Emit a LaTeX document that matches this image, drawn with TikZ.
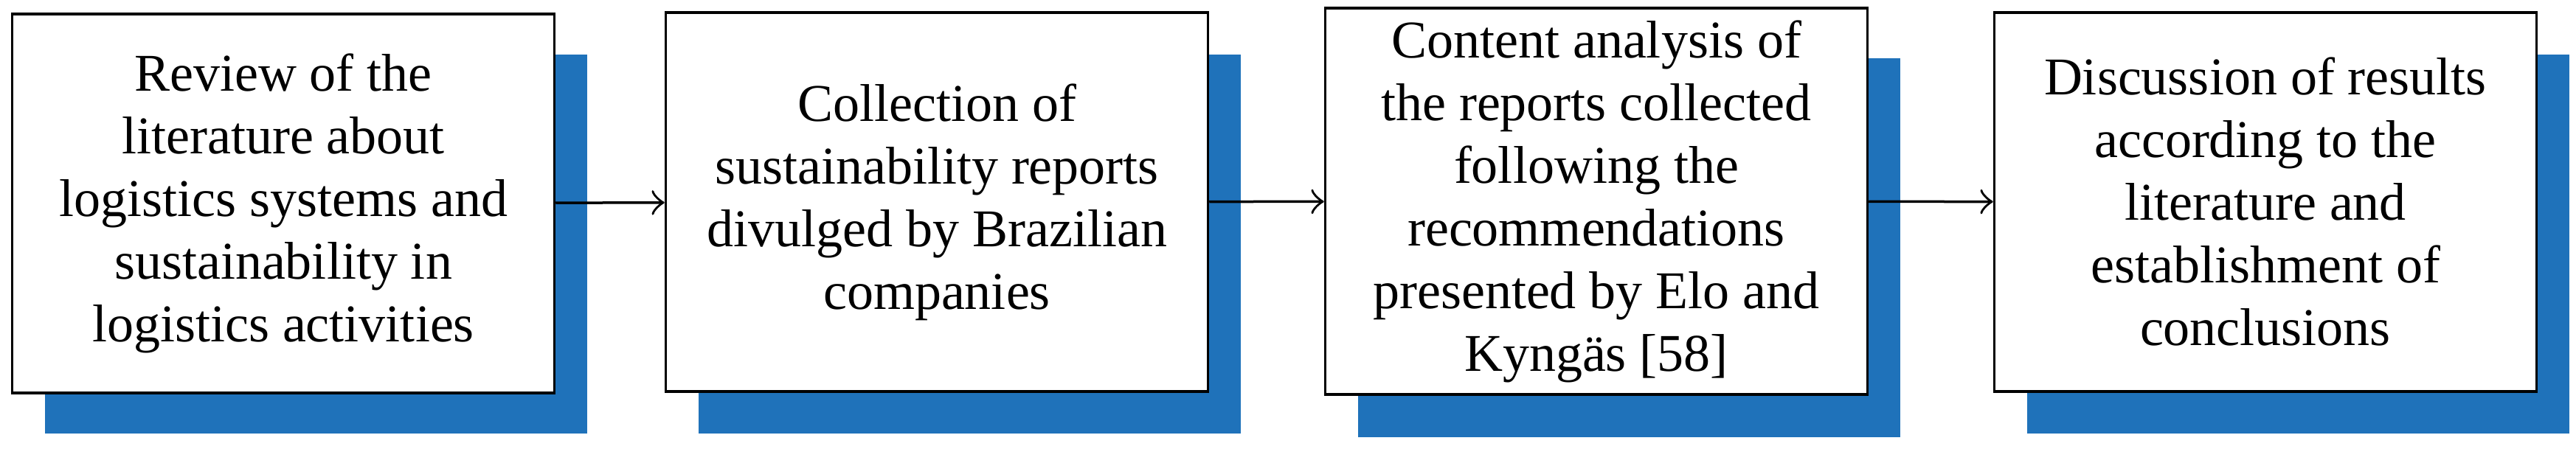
\documentclass[tikz,border=0pt]{standalone}
\usepackage{fontspec}
\setmainfont{Liberation Serif}
\usetikzlibrary{arrows}
\definecolor{stepblue}{RGB}{31,114,186}
\begin{document}
\begin{tikzpicture}[x=1pt,y=1pt,->,>=to,
  every node/.style={inner sep=0pt},
  stage/.style={draw,line width=0.35pt,fill=white,minimum width=73.5pt,minimum height=51.4pt,align=center,font=\fontsize{7.2}{8.5}\selectfont},
  back/.style={fill=stepblue,minimum width=73.5pt,minimum height=51.4pt}
]
\useasboundingbox (0,0) rectangle (349.2,-60.9);
% blue blocks behind
\node [back] (sA) at (42.9,-33.1) {};
\node [back] (sB) at (131.5,-33.1) {};
\node [back] (sC) at (220.9,-33.6) {};
\node [back] (sD) at (311.6,-33.1) {};
% stages
\node [stage] (nA) at (38.4,-27.6) {Review of the\\literature about\\logistics systems and\\sustainability in\\logistics activities};
\node [stage] (nB) at (127.0,-27.4) {Collection of\\sustainability reports\\divulged by Brazilian\\companies};
\node [stage,minimum height=52.4pt] (nC) at (216.4,-27.3) {Content analysis of\\the reports collected\\following the\\recommendations\\presented by Elo and\\Kyngäs [58]};
\node [stage] (nD) at (307.1,-27.4) {Discussion of results\\according to the\\literature and\\establishment of\\conclusions};
\draw [line width=0.35pt] (nA) -- (nB);
\draw [line width=0.35pt] (nB) -- (nC);
\draw [line width=0.35pt] (nC) -- (nD);
\end{tikzpicture}
\end{document}
